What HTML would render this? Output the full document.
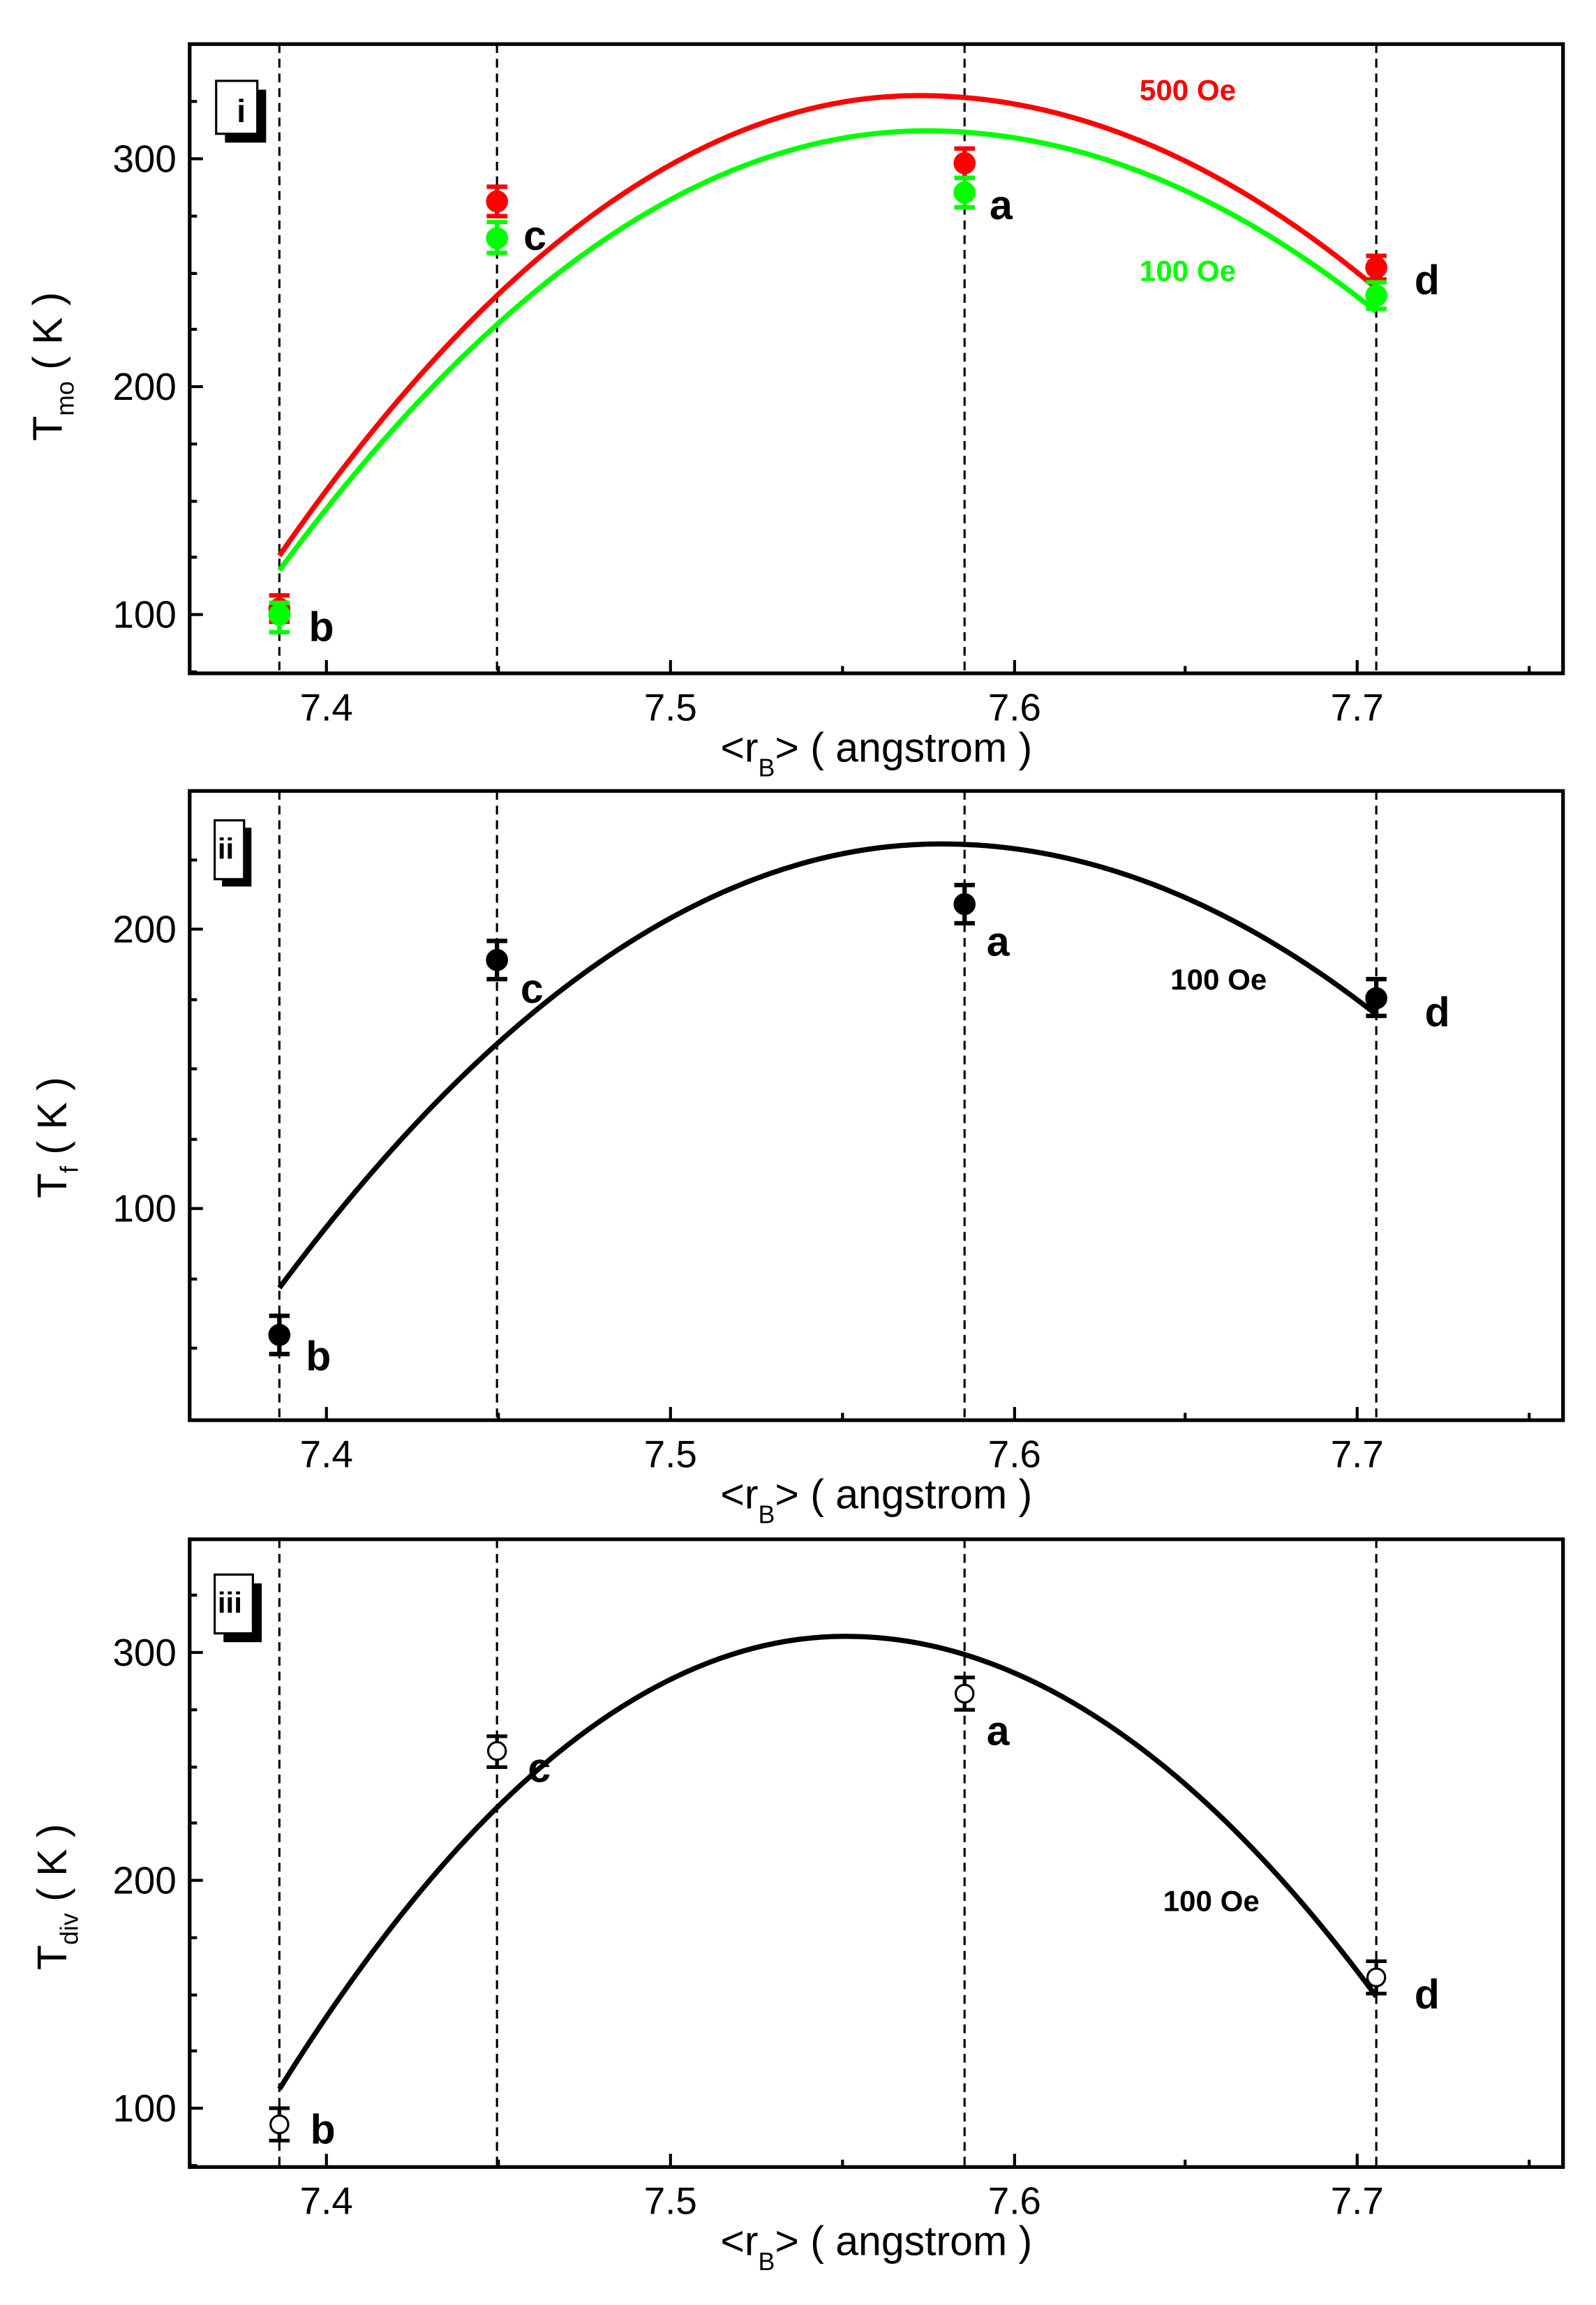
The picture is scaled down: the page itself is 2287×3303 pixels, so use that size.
<!DOCTYPE html>
<html><head><style>html,body{margin:0;padding:0;background:#fff}svg{display:block}</style></head><body>
<svg width="2287" height="3303" viewBox="0 0 1080 1560" preserveAspectRatio="none" xmlns="http://www.w3.org/2000/svg" font-family="Liberation Sans, sans-serif">
<rect width="1080" height="1560" fill="#fff"/>
<defs>
<g id="xt" stroke="#000" stroke-width="2">
<line x1="222" y1="0" x2="222" y2="-9"/><line x1="339" y1="0" x2="339" y2="-5"/>
<line x1="456" y1="0" x2="456" y2="-9"/><line x1="573" y1="0" x2="573" y2="-5"/>
<line x1="690" y1="0" x2="690" y2="-9"/><line x1="806" y1="0" x2="806" y2="-5"/>
<line x1="923" y1="0" x2="923" y2="-9"/><line x1="1040" y1="0" x2="1040" y2="-5"/>
</g>
<g id="xl" font-size="26" text-anchor="middle">
<text x="222" y="32">7.4</text><text x="456" y="32">7.5</text><text x="690" y="32">7.6</text><text x="923" y="32">7.7</text>
<text x="596" y="60" font-size="28">&lt;r<tspan font-size="17" dy="10">B</tspan><tspan dy="-10">&gt; ( angstrom )</tspan></text>
</g>
<g id="dl" stroke="#000" stroke-width="1.5" stroke-dasharray="6,4">
<line x1="190" y1="0" x2="190" y2="428"/><line x1="338" y1="0" x2="338" y2="428"/>
<line x1="656" y1="0" x2="656" y2="428"/><line x1="936" y1="0" x2="936" y2="428"/>
</g>
</defs>
<g transform="scale(0.995)">
<!-- Panel 1 -->
<use href="#dl" y="30"/>
<rect x="129" y="30" width="934" height="428" fill="none" stroke="#000" stroke-width="2.5"/>
<use href="#xt" y="458"/>
<use href="#xl" y="458"/>
<g stroke="#000" stroke-width="2">
<line x1="129" y1="108" x2="138" y2="108"/><line x1="129" y1="263" x2="138" y2="263"/><line x1="129" y1="418" x2="138" y2="418"/>
<line x1="129" y1="69" x2="134" y2="69"/><line x1="129" y1="147" x2="134" y2="147"/><line x1="129" y1="186" x2="134" y2="186"/><line x1="129" y1="224" x2="134" y2="224"/><line x1="129" y1="302" x2="134" y2="302"/><line x1="129" y1="341" x2="134" y2="341"/><line x1="129" y1="379" x2="134" y2="379"/><line x1="129" y1="457" x2="134" y2="457"/>
</g>
<g font-size="26" text-anchor="end"><text x="120" y="117">300</text><text x="120" y="272">200</text><text x="120" y="427">100</text></g>
<text transform="translate(42,300) rotate(-90)" font-size="28">T<tspan font-size="17" dy="8">mo</tspan><tspan dy="-8"> ( K )</tspan></text>
<rect x="153" y="61" width="28" height="36" fill="#000"/><rect x="147" y="55" width="28" height="36" fill="#fff" stroke="#000" stroke-width="1.5"/>
<text x="161" y="83" font-size="22" font-weight="bold">i</text>
<path d="M190,378 Q407,65 625,65 Q780,65 936,196" fill="none" stroke="#f00" stroke-width="3.5"/>
<path d="M190,388 Q410,89 630,89 Q783,89 936,212" fill="none" stroke="#0f0" stroke-width="3.5"/>
<g stroke="#f00" stroke-width="3" fill="#f00">
<line x1="190" y1="405" x2="190" y2="423"/><line x1="183" y1="405" x2="197" y2="405"/><line x1="183" y1="423" x2="197" y2="423"/><circle cx="190" cy="414" r="6"/>
<line x1="338" y1="127" x2="338" y2="147"/><line x1="331" y1="127" x2="345" y2="127"/><line x1="331" y1="147" x2="345" y2="147"/><circle cx="338" cy="137" r="6"/>
<line x1="656" y1="101" x2="656" y2="121"/><line x1="649" y1="101" x2="663" y2="101"/><line x1="649" y1="121" x2="663" y2="121"/><circle cx="656" cy="111" r="6"/>
<line x1="936" y1="174" x2="936" y2="190"/><line x1="929" y1="174" x2="943" y2="174"/><line x1="929" y1="190" x2="943" y2="190"/><circle cx="936" cy="182" r="6"/>
</g>
<g stroke="#0f0" stroke-width="3" fill="#0f0">
<line x1="190" y1="410" x2="190" y2="430"/><line x1="183" y1="410" x2="197" y2="410"/><line x1="183" y1="430" x2="197" y2="430"/><circle cx="190" cy="418" r="6"/>
<line x1="338" y1="151" x2="338" y2="172"/><line x1="331" y1="151" x2="345" y2="151"/><line x1="331" y1="172" x2="345" y2="172"/><circle cx="338" cy="162" r="6"/>
<line x1="656" y1="121" x2="656" y2="141"/><line x1="649" y1="121" x2="663" y2="121"/><line x1="649" y1="141" x2="663" y2="141"/><circle cx="656" cy="131" r="6"/>
<line x1="936" y1="192" x2="936" y2="210"/><line x1="929" y1="192" x2="943" y2="192"/><line x1="929" y1="210" x2="943" y2="210"/><circle cx="936" cy="201" r="6"/>
</g>
<g font-size="28" font-weight="bold"><text x="210" y="436">b</text><text x="356" y="170">c</text><text x="673" y="149">a</text><text x="962" y="200">d</text></g>
<text x="775" y="68" font-size="20" font-weight="bold" fill="#f00">500 Oe</text>
<text x="775" y="191" font-size="20" font-weight="bold" fill="#0f0">100 Oe</text>

<!-- Panel 2 -->
<use href="#dl" y="538"/>
<rect x="129" y="538" width="934" height="428" fill="none" stroke="#000" stroke-width="2.5"/>
<use href="#xt" y="966"/>
<use href="#xl" y="966"/>
<g stroke="#000" stroke-width="2">
<line x1="129" y1="632" x2="138" y2="632"/><line x1="129" y1="822" x2="138" y2="822"/>
<line x1="129" y1="585" x2="134" y2="585"/><line x1="129" y1="680" x2="134" y2="680"/><line x1="129" y1="727" x2="134" y2="727"/><line x1="129" y1="775" x2="134" y2="775"/><line x1="129" y1="870" x2="134" y2="870"/><line x1="129" y1="917" x2="134" y2="917"/>
</g>
<g font-size="26" text-anchor="end"><text x="120" y="641">200</text><text x="120" y="831">100</text></g>
<text transform="translate(45,815) rotate(-90)" font-size="28">T<tspan font-size="17" dy="8">f</tspan><tspan dy="-8"> ( K )</tspan></text>
<rect x="151" y="563" width="20" height="40" fill="#000"/><rect x="146" y="558" width="20" height="40" fill="#fff" stroke="#000" stroke-width="1.5"/>
<text x="148" y="584" font-size="20" font-weight="bold">ii</text>
<path d="M190,876 Q415,574 640,574 Q788,574 936,690" fill="none" stroke="#000" stroke-width="3.5"/>
<g stroke="#000" stroke-width="3" fill="#000">
<line x1="190" y1="895" x2="190" y2="921"/><line x1="183" y1="895" x2="197" y2="895"/><line x1="183" y1="921" x2="197" y2="921"/><circle cx="190" cy="908" r="6"/>
<line x1="338" y1="640" x2="338" y2="666"/><line x1="331" y1="640" x2="345" y2="640"/><line x1="331" y1="666" x2="345" y2="666"/><circle cx="338" cy="653" r="6"/>
<line x1="656" y1="602" x2="656" y2="628"/><line x1="649" y1="602" x2="663" y2="602"/><line x1="649" y1="628" x2="663" y2="628"/><circle cx="656" cy="615" r="6"/>
<line x1="936" y1="666" x2="936" y2="691"/><line x1="929" y1="666" x2="943" y2="666"/><line x1="929" y1="691" x2="943" y2="691"/><circle cx="936" cy="679" r="6"/>
</g>
<g font-size="28" font-weight="bold"><text x="208" y="932">b</text><text x="354" y="682">c</text><text x="671" y="650">a</text><text x="969" y="698">d</text></g>
<text x="796" y="673" font-size="20" font-weight="bold">100 Oe</text>

<!-- Panel 3 -->
<use href="#dl" y="1047"/>
<rect x="129" y="1047" width="934" height="427" fill="none" stroke="#000" stroke-width="2.5"/>
<use href="#xt" y="1474"/>
<use href="#xl" y="1474"/>
<g stroke="#000" stroke-width="2">
<line x1="129" y1="1124" x2="138" y2="1124"/><line x1="129" y1="1279" x2="138" y2="1279"/><line x1="129" y1="1434" x2="138" y2="1434"/>
<line x1="129" y1="1085" x2="134" y2="1085"/><line x1="129" y1="1163" x2="134" y2="1163"/><line x1="129" y1="1202" x2="134" y2="1202"/><line x1="129" y1="1240" x2="134" y2="1240"/><line x1="129" y1="1318" x2="134" y2="1318"/><line x1="129" y1="1357" x2="134" y2="1357"/><line x1="129" y1="1395" x2="134" y2="1395"/><line x1="129" y1="1473" x2="134" y2="1473"/>
</g>
<g font-size="26" text-anchor="end"><text x="120" y="1133">300</text><text x="120" y="1288">200</text><text x="120" y="1443">100</text></g>
<text transform="translate(45,1340) rotate(-90)" font-size="28">T<tspan font-size="17" dy="8">div</tspan><tspan dy="-8"> ( K )</tspan></text>
<rect x="152" y="1077" width="26" height="40" fill="#000"/><rect x="146" y="1071" width="26" height="40" fill="#fff" stroke="#000" stroke-width="1.5"/>
<text x="148" y="1097" font-size="20" font-weight="bold">iii</text>
<path d="M190,1421 Q382,1113 575,1113 Q755,1113 936,1358" fill="none" stroke="#000" stroke-width="3.5"/>
<g stroke="#000" stroke-width="2.5" fill="#fff">
<line x1="190" y1="1434" x2="190" y2="1456"/><line x1="183" y1="1434" x2="197" y2="1434"/><line x1="183" y1="1456" x2="197" y2="1456"/><circle cx="190" cy="1445" r="6" stroke-width="1.5"/>
<line x1="338" y1="1181" x2="338" y2="1202"/><line x1="331" y1="1181" x2="345" y2="1181"/><line x1="331" y1="1202" x2="345" y2="1202"/><circle cx="338" cy="1191" r="6" stroke-width="1.5"/>
<line x1="656" y1="1141" x2="656" y2="1163"/><line x1="649" y1="1141" x2="663" y2="1141"/><line x1="649" y1="1163" x2="663" y2="1163"/><circle cx="656" cy="1152" r="6" stroke-width="1.5"/>
<line x1="936" y1="1334" x2="936" y2="1356"/><line x1="929" y1="1334" x2="943" y2="1334"/><line x1="929" y1="1356" x2="943" y2="1356"/><circle cx="936" cy="1345" r="6" stroke-width="1.5"/>
</g>
<g font-size="28" font-weight="bold"><text x="211" y="1458">b</text><text x="359" y="1212">c</text><text x="671" y="1187">a</text><text x="962" y="1366">d</text></g>
<text x="791" y="1300" font-size="20" font-weight="bold">100 Oe</text>
</g>
</svg>
</body></html>
